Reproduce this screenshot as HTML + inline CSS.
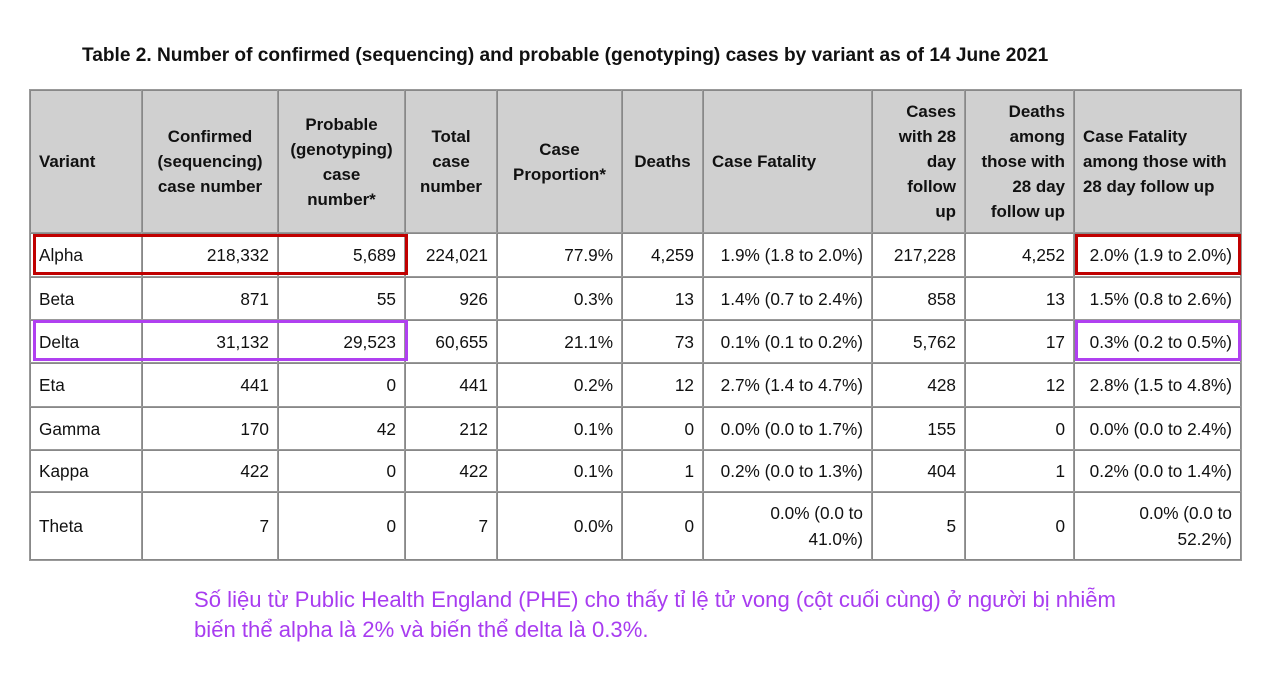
<!DOCTYPE html>
<html><head><meta charset="utf-8"><style>
body{margin:0;width:1284px;height:686px;background:#fff;position:relative;font-family:"Liberation Sans",Arial,sans-serif;overflow:hidden}
.t{position:absolute;left:82px;top:45px;font-weight:bold;font-size:19.1px;color:#111;white-space:nowrap}
.c{position:absolute;box-sizing:border-box;display:flex;align-items:center;font-size:17.2px;color:#111;line-height:26px;padding:0 8px;white-space:nowrap}
.h{background:#d0d0d0;font-weight:bold;justify-content:center;text-align:center;line-height:25px;font-size:16.9px}
.box{position:absolute;box-sizing:border-box;border:3px solid}
.cap{position:absolute;left:194px;top:585px;font-size:22.1px;color:#a83cf0;line-height:30px;white-space:nowrap;font-family:"Liberation Sans","DejaVu Sans",sans-serif}
</style></head><body>
<div class="t">Table 2. Number of confirmed (sequencing) and probable (genotyping) cases by variant as of 14 June 2021</div>
<div id="tbl"></div>
<div class="box" style="left:33px;top:234px;width:375px;height:41px;border-color:#c00000"></div>
<div class="box" style="left:1075px;top:234px;width:166px;height:41px;border-color:#c00000"></div>
<div class="box" style="left:33px;top:320px;width:375px;height:41px;border-color:#b040f0"></div>
<div class="box" style="left:1075px;top:320px;width:166px;height:41px;border-color:#b040f0"></div>
<div class="cap">Số liệu từ Public Health England (PHE) cho thấy tỉ lệ tử vong (cột cuối cùng) ở người bị nhiễm<br>biến thể alpha là 2% và biến thể delta là 0.3%.</div>
<script>
const xs=[30,142,278,405,497,622,703,872,965,1074,1241];
const ys=[90,233,277,320,363,407,450,492,560];
const headers=["Variant","Confirmed<br>(sequencing)<br>case number","Probable<br>(genotyping)<br>case<br>number*","Total<br>case<br>number","Case<br>Proportion*","Deaths","Case Fatality","Cases<br>with 28<br>day<br>follow<br>up","Deaths<br>among<br>those with<br>28 day<br>follow up","Case Fatality<br>among those with<br>28 day follow up"];
const hAlign=["l","c","c","c","c","c","l","r","r","l"];
const rows=[
["Alpha","218,332","5,689","224,021","77.9%","4,259","1.9% (1.8 to 2.0%)","217,228","4,252","2.0% (1.9 to 2.0%)"],
["Beta","871","55","926","0.3%","13","1.4% (0.7 to 2.4%)","858","13","1.5% (0.8 to 2.6%)"],
["Delta","31,132","29,523","60,655","21.1%","73","0.1% (0.1 to 0.2%)","5,762","17","0.3% (0.2 to 0.5%)"],
["Eta","441","0","441","0.2%","12","2.7% (1.4 to 4.7%)","428","12","2.8% (1.5 to 4.8%)"],
["Gamma","170","42","212","0.1%","0","0.0% (0.0 to 1.7%)","155","0","0.0% (0.0 to 2.4%)"],
["Kappa","422","0","422","0.1%","1","0.2% (0.0 to 1.3%)","404","1","0.2% (0.0 to 1.4%)"],
["Theta","7","0","7","0.0%","0","0.0% (0.0 to<br>41.0%)","5","0","0.0% (0.0 to<br>52.2%)"]];
const T=document.getElementById('tbl');
function cell(x0,x1,y0,y1,html,cls,al){
 const d=document.createElement('div');
 d.className='c '+cls;
 d.style.cssText=`left:${x0}px;top:${y0}px;width:${x1-x0}px;height:${y1-y0}px;border:1px solid #888;box-shadow:0 0 0 1px #999`;
 if(al=='l'){d.style.justifyContent='flex-start';d.style.textAlign='left';}
 if(al=='r'){d.style.justifyContent='flex-end';d.style.textAlign='right';}
 d.innerHTML=html;
 
 
 T.appendChild(d);
}
headers.forEach((h,i)=>cell(xs[i],xs[i+1],ys[0],ys[1],h,'h',hAlign[i]));
rows.forEach((r,j)=>r.forEach((v,i)=>cell(xs[i],xs[i+1],ys[j+1],ys[j+2],v,'',i==0?'l':'r')));
</script>
</body></html>
